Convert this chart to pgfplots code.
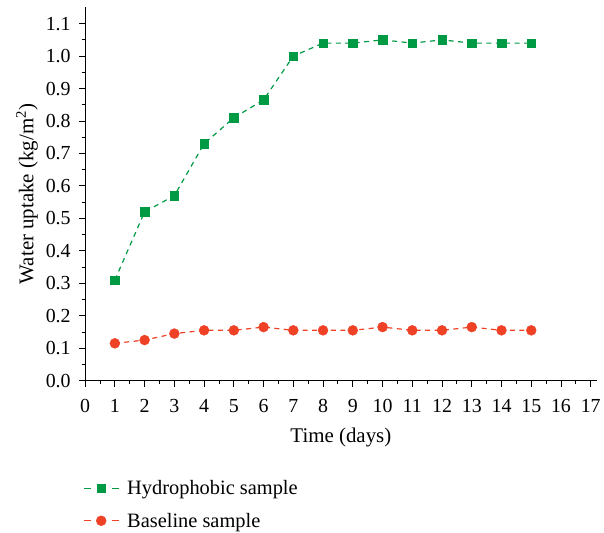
\documentclass[border=0pt]{standalone}
\usepackage{fontspec}
\setmainfont{Liberation Serif}
\usepackage{pgfplots}
\pgfplotsset{compat=1.18}
\definecolor{hgreen}{RGB}{0,154,68}
\definecolor{bred}{RGB}{238,65,38}

\begin{document}
\begin{tikzpicture}
\begin{axis}[
    scale only axis,
    width=514pt,
    height=375pt,
    xmin=0, xmax=17.2,
    ymin=0, ymax=1.15,
    axis x line*=bottom,
    axis y line*=left,
    axis line style={line width=0.9pt},
    xtick={0,1,...,17},
    ytick={0,0.1,...,1.1},
    minor x tick num=1,
    minor y tick num=1,
    tick align=outside,
    major tick length=6pt,
    minor tick length=3.5pt,
    tick style={line width=0.9pt, black},
    /pgf/number format/assume math mode=true,
    ticklabel style={font=\fontsize{20}{24}\selectfont},
    yticklabel style={xshift=-5pt, /pgf/number format/.cd, fixed, fixed zerofill, precision=1},
    xticklabel style={yshift=-9pt},
    label style={font=\fontsize{21}{25}\selectfont},
    xlabel={Time (days)},
    ylabel={Water uptake (kg/m\textsuperscript{2})},
    xlabel style={yshift=-9pt},
    ylabel style={yshift=1pt},
    legend style={at={(-0.01,-0.256)}, anchor=north west, draw=none,
        font=\fontsize{20.5}{24}\selectfont, row sep=13pt,
        /tikz/every odd column/.append style={column sep=6pt}},
    legend cell align=left,
    legend image code/.code={
        \draw[#1, dash pattern=on 7pt off 21pt on 7pt off 0pt] (0pt,0pt)--(35pt,0pt);
        \draw[#1, only marks] plot coordinates {(17.5pt,0pt)};
    },
]
\addplot[hgreen, line width=1.2pt, dash pattern=on 5pt off 4.5pt,
    mark=square*, mark size=4.3pt, mark options={solid, line width=0.4pt, fill=hgreen}]
coordinates {
    (1,0.31) (2,0.52) (3,0.57) (4,0.73) (5,0.81) (6,0.865) (7,1.00)
    (8,1.04) (9,1.04) (10,1.05) (11,1.04) (12,1.05) (13,1.04) (14,1.04) (15,1.04)
};
\addlegendentry{Hydrophobic sample}
\addplot[bred, line width=1.2pt, dash pattern=on 5pt off 4.5pt,
    mark=*, mark size=5pt, mark options={solid, line width=0.4pt, fill=bred}]
coordinates {
    (1,0.115) (2,0.125) (3,0.145) (4,0.155) (5,0.155) (6,0.165) (7,0.155)
    (8,0.155) (9,0.155) (10,0.165) (11,0.155) (12,0.155) (13,0.165) (14,0.155) (15,0.155)
};
\addlegendentry{Baseline sample}
\end{axis}
% margins around the chart as in the reference
\path ([shift={(-13pt,7pt)}]current bounding box.north west);
\end{tikzpicture}
\end{document}
